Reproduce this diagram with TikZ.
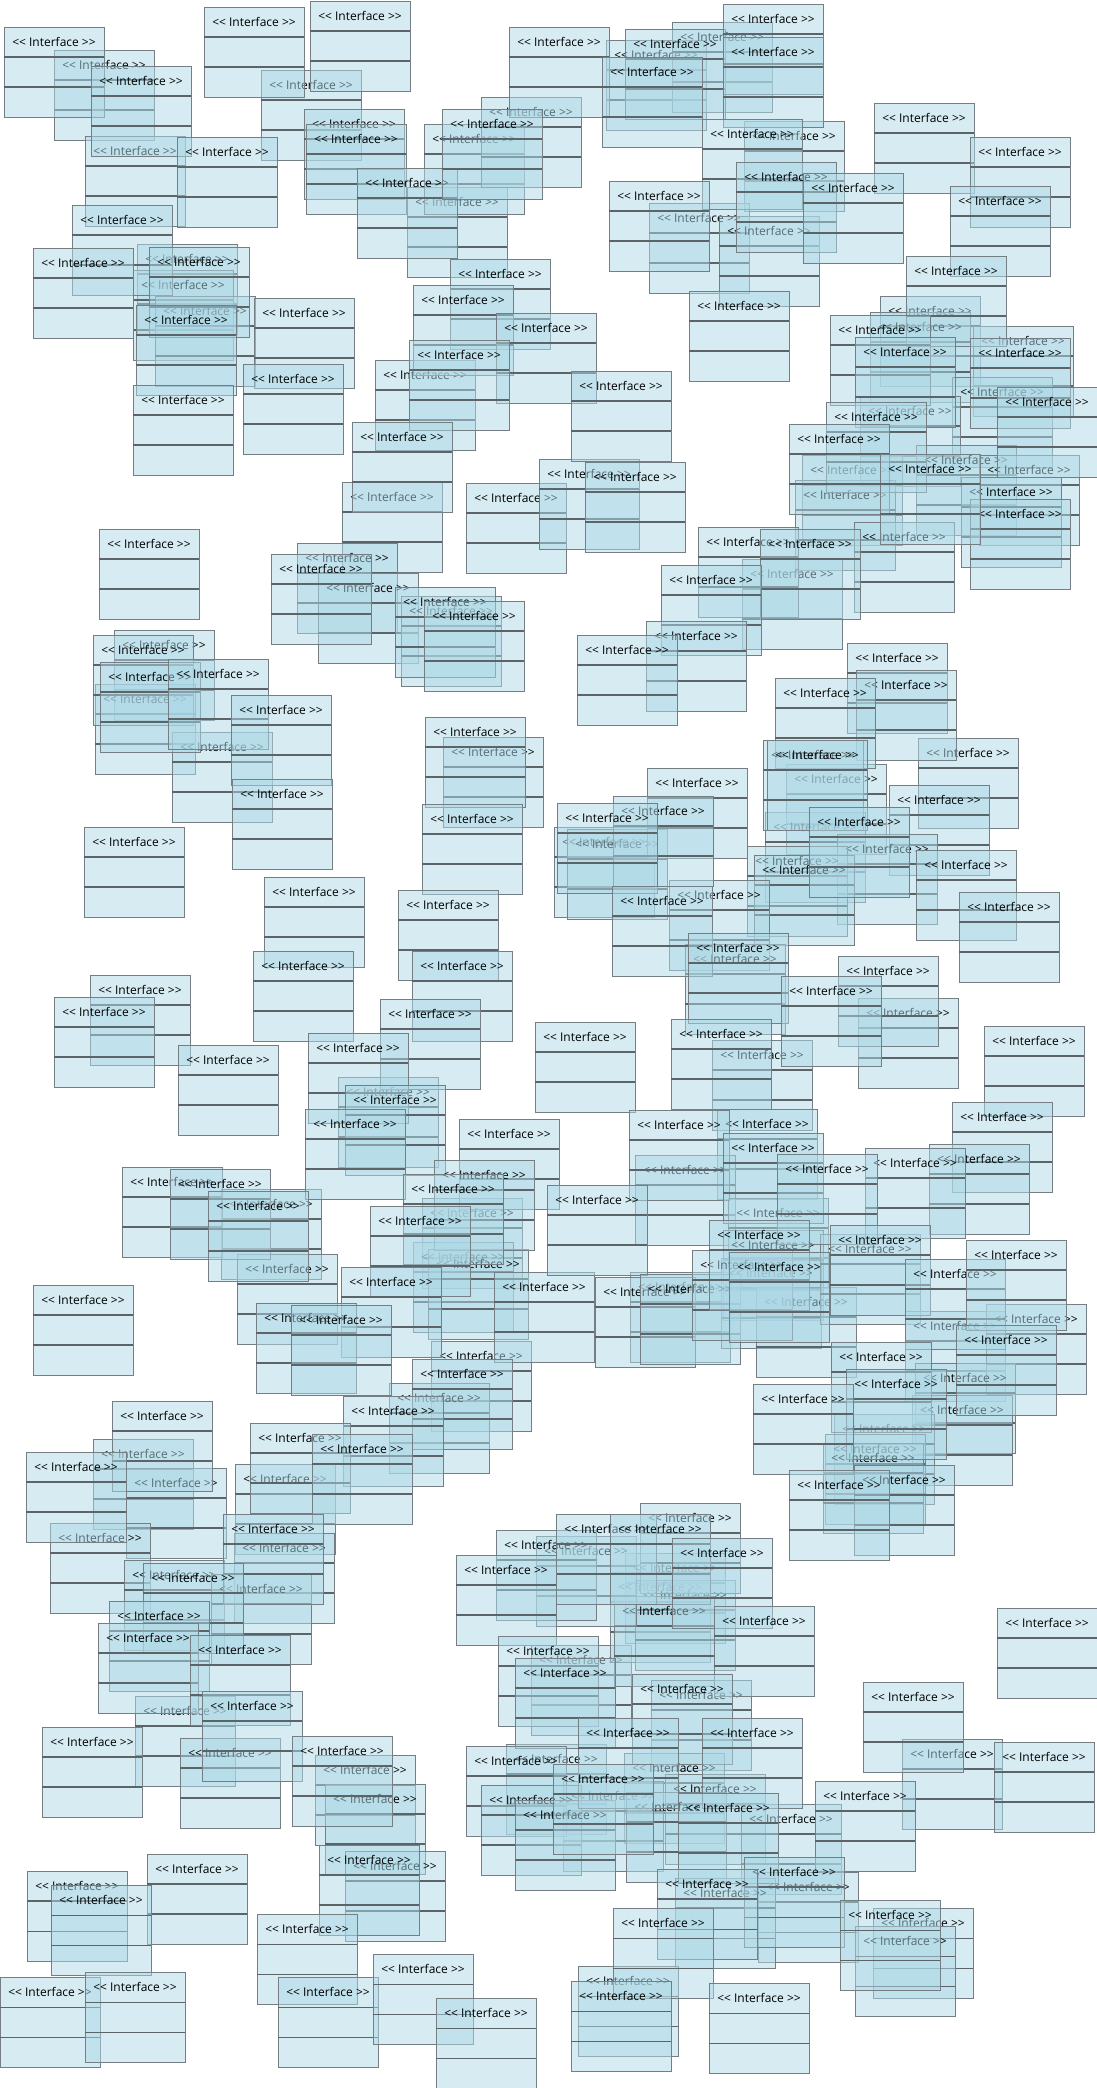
\documentclass[tikz,border=0pt]{standalone}
\usepackage{fontspec}
\newfontfamily\ifont{Open Sans}
\definecolor{boxblue}{RGB}{173,216,230}
\definecolor{boxline}{RGB}{116,126,131}
\definecolor{sepline}{RGB}{92,100,104}
\tikzset{
  ibox/.style={rectangle, anchor=north west, minimum width=100pt, minimum height=90pt,
    inner sep=0pt, outer sep=0pt, fill=boxblue, fill opacity=0.5, draw=boxline,
    draw opacity=1, line width=0.95pt},
  sepl/.style={draw=sepline, line width=1.05pt},
  lbl/.style={inner sep=0pt, text=black, text opacity=1, font=\ifont\fontsize{12}{14}\selectfont}
}
\newcommand\ilab{<\kern0pt<\ Interface\ >\kern0pt>}
\newcommand\IB[3]{%
  \node[ibox] (B#1) at (#2,#3) {};
  \draw[sepl] ([yshift=-30pt]B#1.north west) -- ([yshift=-30pt]B#1.north east)
              ([yshift=-60pt]B#1.north west) -- ([yshift=-60pt]B#1.north east);
  \node[lbl] (T#1) at ([yshift=-15pt]B#1.north) {\ilab};
}
\begin{document}
\begin{tikzpicture}[x=1pt,y=-1pt]
\useasboundingbox (0,0) rectangle (1097,2088);
% lower (grey-label) boxes
\IB{g1}{54}{50}
\IB{g2}{261}{70}
\IB{g3}{85}{136}
\IB{g4}{304}{109}
\IB{g5}{407}{187}
\IB{g6}{424}{124}
\IB{g7}{481}{97}
\IB{g8}{137}{244}
\IB{g9}{133}{270}
\IB{g10}{155}{296}
\IB{g11}{375}{360}
\IB{g12}{342}{482}
\IB{g13}{606}{40}
\IB{g14}{672}{22}
\IB{g15}{744}{121}
\IB{g16}{649}{203}
\IB{g17}{719}{216}
\IB{g18}{880}{296}
\IB{g19}{870}{312}
\IB{g20}{973}{326}
\IB{g21}{952}{377}
\IB{g22}{860}{396}
\IB{g23}{802}{455}
\IB{g24}{916}{445}
\IB{g25}{979}{455}
\IB{g26}{961}{477}
\IB{g27}{970}{499}
\IB{g28}{795}{480}
\IB{g29}{297}{543}
\IB{g30}{318}{573}
\IB{g31}{401}{596}
\IB{g32}{114}{630}
\IB{g33}{95}{684}
\IB{g34}{172}{732}
\IB{g35}{443}{737}
\IB{g36}{854}{522}
\IB{g37}{742}{559}
\IB{g38}{918}{738}
\IB{g39}{786}{764}
\IB{g40}{554}{827}
\IB{g41}{567}{829}
\IB{g42}{889}{785}
\IB{g43}{765}{812}
\IB{g44}{837}{834}
\IB{g45}{747}{846}
\IB{g46}{754}{855}
\IB{g47}{669}{880}
\IB{g48}{685}{944}
\IB{g49}{858}{998}
\IB{g50}{338}{1077}
\IB{g51}{422}{1198}
\IB{g52}{413}{1242}
\IB{g53}{428}{1249}
\IB{g54}{221}{1189}
\IB{g55}{237}{1254}
\IB{g56}{431}{1341}
\IB{g57}{389}{1383}
\IB{g58}{93}{1439}
\IB{g59}{126}{1468}
\IB{g60}{235}{1464}
\IB{g61}{50}{1523}
\IB{g62}{712}{1040}
\IB{g63}{717}{1109}
\IB{g64}{635}{1155}
\IB{g65}{728}{1198}
\IB{g66}{630}{1272}
\IB{g67}{723}{1230}
\IB{g68}{721}{1258}
\IB{g69}{756}{1287}
\IB{g70}{820}{1234}
\IB{g71}{905}{1311}
\IB{g72}{986}{1304}
\IB{g73}{915}{1363}
\IB{g74}{912}{1395}
\IB{g75}{834}{1414}
\IB{g76}{825}{1434}
\IB{g77}{823}{1443}
\IB{g78}{854}{1465}
\IB{g79}{234}{1533}
\IB{g80}{124}{1560}
\IB{g81}{211}{1574}
\IB{g82}{135}{1696}
\IB{g83}{180}{1738}
\IB{g84}{315}{1755}
\IB{g85}{325}{1784}
\IB{g86}{345}{1851}
\IB{g87}{27}{1871}
\IB{g88}{531}{1645}
\IB{g89}{506}{1744}
\IB{g90}{625}{1553}
\IB{g91}{610}{1572}
\IB{g92}{635}{1580}
\IB{g93}{614}{1596}
\IB{g94}{902}{1739}
\IB{g95}{651}{1680}
\IB{g96}{624}{1753}
\IB{g97}{563}{1781}
\IB{g98}{665}{1774}
\IB{g99}{741}{1804}
\IB{g100}{626}{1792}
\IB{g101}{758}{1872}
\IB{g102}{675}{1878}
\IB{g103}{873}{1908}
\IB{g104}{855}{1926}
\IB{g105}{578}{1966}
\IB{g106}{536}{1536}
% upper (black-label) boxes
\IB{k1}{4}{27}
\IB{k2}{91}{66}
\IB{k3}{204}{7}
\IB{k4}{310}{1}
\IB{k5}{509}{27}
\IB{k6}{177}{137}
\IB{k7}{306}{124}
\IB{k8}{357}{168}
\IB{k9}{442}{109}
\IB{k10}{72}{205}
\IB{k11}{33}{248}
\IB{k12}{149}{247}
\IB{k13}{136}{305}
\IB{k14}{254}{298}
\IB{k15}{243}{364}
\IB{k16}{133}{385}
\IB{k17}{450}{259}
\IB{k18}{413}{285}
\IB{k19}{496}{313}
\IB{k20}{409}{340}
\IB{k21}{352}{422}
\IB{k22}{466}{483}
\IB{k23}{539}{459}
\IB{k24}{625}{29}
\IB{k25}{602}{57}
\IB{k26}{723}{4}
\IB{k27}{723}{37}
\IB{k28}{702}{119}
\IB{k29}{874}{103}
\IB{k30}{970}{137}
\IB{k31}{950}{186}
\IB{k32}{609}{181}
\IB{k33}{736}{162}
\IB{k34}{803}{173}
\IB{k35}{689}{291}
\IB{k36}{906}{256}
\IB{k37}{830}{315}
\IB{k38}{855}{337}
\IB{k39}{970}{338}
\IB{k40}{997}{387}
\IB{k41}{826}{402}
\IB{k42}{789}{424}
\IB{k43}{880}{454}
\IB{k44}{571}{371}
\IB{k45}{585}{462}
\IB{k46}{99}{529}
\IB{k47}{271}{554}
\IB{k48}{395}{587}
\IB{k49}{424}{601}
\IB{k50}{93}{635}
\IB{k51}{100}{662}
\IB{k52}{168}{659}
\IB{k53}{231}{695}
\IB{k54}{232}{779}
\IB{k55}{425}{717}
\IB{k56}{422}{804}
\IB{k57}{84}{827}
\IB{k58}{264}{877}
\IB{k59}{398}{890}
\IB{k60}{253}{951}
\IB{k61}{412}{951}
\IB{k62}{90}{975}
\IB{k63}{54}{997}
\IB{k64}{380}{999}
\IB{k65}{698}{527}
\IB{k66}{760}{529}
\IB{k67}{661}{565}
\IB{k68}{646}{621}
\IB{k69}{577}{635}
\IB{k70}{847}{643}
\IB{k71}{856}{670}
\IB{k72}{775}{678}
\IB{k73}{763}{740}
\IB{k74}{767}{740}
\IB{k75}{647}{768}
\IB{k76}{613}{796}
\IB{k77}{557}{803}
\IB{k78}{809}{807}
\IB{k79}{916}{850}
\IB{k80}{612}{886}
\IB{k81}{959}{892}
\IB{k82}{688}{933}
\IB{k83}{838}{956}
\IB{k84}{781}{976}
\IB{k85}{535}{1022}
\IB{k86}{671}{1019}
\IB{k87}{178}{1045}
\IB{k88}{308}{1033}
\IB{k89}{345}{1085}
\IB{k90}{305}{1109}
\IB{k91}{459}{1119}
\IB{k92}{434}{1160}
\IB{k93}{403}{1174}
\IB{k94}{370}{1206}
\IB{k95}{341}{1267}
\IB{k96}{494}{1272}
\IB{k97}{122}{1167}
\IB{k98}{170}{1169}
\IB{k99}{208}{1191}
\IB{k100}{33}{1285}
\IB{k101}{256}{1303}
\IB{k102}{291}{1305}
\IB{k103}{412}{1359}
\IB{k104}{343}{1396}
\IB{k105}{112}{1401}
\IB{k106}{26}{1452}
\IB{k107}{250}{1423}
\IB{k108}{312}{1434}
\IB{k109}{223}{1514}
\IB{k110}{496}{1530}
\IB{k111}{984}{1026}
\IB{k112}{952}{1102}
\IB{k113}{929}{1144}
\IB{k114}{865}{1148}
\IB{k115}{629}{1110}
\IB{k116}{723}{1133}
\IB{k117}{777}{1154}
\IB{k118}{547}{1185}
\IB{k119}{595}{1277}
\IB{k120}{640}{1274}
\IB{k121}{692}{1250}
\IB{k122}{709}{1220}
\IB{k123}{729}{1252}
\IB{k124}{830}{1225}
\IB{k125}{905}{1259}
\IB{k126}{966}{1240}
\IB{k127}{956}{1325}
\IB{k128}{831}{1342}
\IB{k129}{846}{1369}
\IB{k130}{753}{1384}
\IB{k131}{789}{1470}
\IB{k132}{640}{1503}
\IB{k133}{556}{1514}
\IB{k134}{610}{1514}
\IB{k135}{672}{1538}
\IB{k136}{143}{1563}
\IB{k137}{109}{1601}
\IB{k138}{98}{1623}
\IB{k139}{190}{1635}
\IB{k140}{202}{1691}
\IB{k141}{42}{1727}
\IB{k142}{292}{1736}
\IB{k143}{319}{1845}
\IB{k144}{257}{1914}
\IB{k145}{147}{1854}
\IB{k146}{51}{1885}
\IB{k147}{0}{1977}
\IB{k148}{85}{1972}
\IB{k149}{278}{1977}
\IB{k150}{373}{1954}
\IB{k151}{436}{1998}
\IB{k152}{456}{1555}
\IB{k153}{498}{1636}
\IB{k154}{515}{1658}
\IB{k155}{466}{1746}
\IB{k156}{481}{1785}
\IB{k157}{515}{1800}
\IB{k158}{714}{1606}
\IB{k159}{997}{1608}
\IB{k160}{863}{1682}
\IB{k161}{994}{1742}
\IB{k162}{815}{1781}
\IB{k163}{632}{1674}
\IB{k164}{578}{1718}
\IB{k165}{702}{1718}
\IB{k166}{553}{1764}
\IB{k167}{678}{1793}
\IB{k168}{744}{1857}
\IB{k169}{657}{1869}
\IB{k170}{840}{1900}
\IB{k171}{613}{1908}
\IB{k172}{571}{1981}
\IB{k173}{709}{1983}
\end{tikzpicture}
\end{document}
